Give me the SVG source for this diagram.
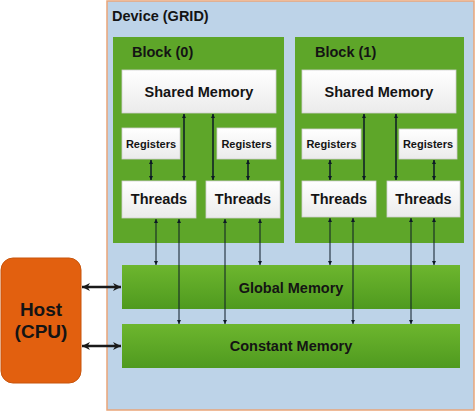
<svg xmlns="http://www.w3.org/2000/svg" width="475" height="413" viewBox="0 0 475 413">
<defs>
<linearGradient id="gw" x1="0" y1="0" x2="0" y2="1"><stop offset="0" stop-color="#ffffff"/><stop offset="1" stop-color="#ebebeb"/></linearGradient>
<linearGradient id="gg" x1="0" y1="0" x2="0" y2="1"><stop offset="0" stop-color="#6db62e"/><stop offset="1" stop-color="#4f9a1f"/></linearGradient>
<marker id="ah" viewBox="0 0 10 10" refX="10" refY="5" markerWidth="4" markerHeight="5" markerUnits="userSpaceOnUse" orient="auto-start-reverse"><path d="M0,0 L10,5 L0,10 z" fill="#0d1a26"/></marker>
<marker id="ahb" viewBox="0 0 10 10" refX="10" refY="5" markerWidth="9" markerHeight="8" markerUnits="userSpaceOnUse" orient="auto-start-reverse"><path d="M0,0 L10,5 L0,10 L3,5 z" fill="#1a1a1a"/></marker>
</defs>
<style>
text{font-family:"Liberation Sans",Arial,sans-serif;font-weight:bold;fill:#141414}
.box{fill:url(#gw);stroke:#d0d0d0;stroke-width:0.8}
.blk{fill:#5ea629}
.mem{fill:url(#gg)}
.t14{font-size:14.5px}
.reg{font-size:11px}
.c{text-anchor:middle}
.ln{stroke:#0d1a26;stroke-width:1;fill:none;marker-start:url(#ah);marker-end:url(#ah)}
.lnk{stroke:#0d1a26;stroke-width:1.5;fill:none;marker-start:url(#ah);marker-end:url(#ah)}
.hl{stroke:#1a1a1a;stroke-width:2.5;fill:none;marker-start:url(#ahb);marker-end:url(#ahb)}
</style>
<rect width="475" height="413" fill="#ffffff"/>
<g id="device">
<rect x="107" y="1" width="367" height="409" fill="#bdd3e8" stroke="#eaa578" stroke-width="1.5"/>
<text x="112" y="21" class="t14">Device (GRID)</text>
</g>
<g id="block0">
<rect x="113" y="37" width="171" height="206" class="blk"/>
<text x="132" y="57" class="t14">Block (0)</text>
</g>
<g id="block1">
<rect x="295" y="37" width="169" height="206" class="blk"/>
<text x="315" y="57" class="t14">Block (1)</text>
</g>
<g id="shared0"><rect x="122" y="70" width="154" height="43" class="box"/><text x="199" y="97" class="t14 c">Shared Memory</text></g>
<g id="shared1"><rect x="302" y="70" width="154" height="43" class="box"/><text x="379" y="97" class="t14 c">Shared Memory</text></g>
<g id="reg0a"><rect x="122" y="128" width="58" height="31" class="box"/><text x="151" y="148" class="reg c">Registers</text></g>
<g id="reg0b"><rect x="217" y="128" width="59" height="31" class="box"/><text x="246.5" y="148" class="reg c">Registers</text></g>
<g id="reg1a"><rect x="302" y="129" width="59" height="30" class="box"/><text x="331.5" y="148" class="reg c">Registers</text></g>
<g id="reg1b"><rect x="399" y="129" width="58" height="30" class="box"/><text x="428" y="148" class="reg c">Registers</text></g>
<g id="thr0a"><rect x="122" y="181" width="74" height="37" class="box"/><text x="159" y="204" class="t14 c">Threads</text></g>
<g id="thr0b"><rect x="206" y="181" width="74" height="37" class="box"/><text x="243" y="204" class="t14 c">Threads</text></g>
<g id="thr1a"><rect x="302" y="181" width="74" height="36" class="box"/><text x="339" y="204" class="t14 c">Threads</text></g>
<g id="thr1b"><rect x="387" y="181" width="73" height="36" class="box"/><text x="423.5" y="204" class="t14 c">Threads</text></g>
<g id="global"><rect x="122" y="265" width="338" height="44" class="mem"/><text x="291" y="293" class="t14 c">Global Memory</text></g>
<g id="constant"><rect x="122" y="324" width="338" height="44" class="mem"/><text x="291" y="351" class="t14 c">Constant Memory</text></g>
<g id="host">
<rect x="1" y="258" width="80" height="125" rx="12" fill="#e2600f" stroke="#c8550c" stroke-width="1"/>
<text x="41" y="316" class="c" style="font-size:19px">Host</text>
<text x="41" y="338" class="c" style="font-size:19px">(CPU)</text>
</g>
<g id="connectors">
<line x1="184" y1="114" x2="184" y2="180" class="lnk"/>
<line x1="213" y1="114" x2="213" y2="180" class="lnk"/>
<line x1="364" y1="114" x2="364" y2="180" class="lnk"/>
<line x1="396" y1="114" x2="396" y2="180" class="lnk"/>
<line x1="151" y1="160" x2="151" y2="180" class="lnk"/>
<line x1="248" y1="160" x2="248" y2="180" class="lnk"/>
<line x1="330" y1="160" x2="330" y2="180" class="lnk"/>
<line x1="434" y1="160" x2="434" y2="180" class="lnk"/>
<line x1="156" y1="219" x2="156" y2="265" class="ln"/>
<line x1="179" y1="219" x2="179" y2="324" class="ln"/>
<line x1="225" y1="219" x2="225" y2="324" class="ln"/>
<line x1="260" y1="219" x2="260" y2="265" class="ln"/>
<line x1="330" y1="218" x2="330" y2="265" class="ln"/>
<line x1="353" y1="218" x2="353" y2="324" class="ln"/>
<line x1="411" y1="218" x2="411" y2="324" class="ln"/>
<line x1="434" y1="218" x2="434" y2="265" class="ln"/>
<line x1="82" y1="287" x2="121" y2="287" class="hl"/>
<line x1="82" y1="346" x2="121" y2="346" class="hl"/>
</g>
</svg>
